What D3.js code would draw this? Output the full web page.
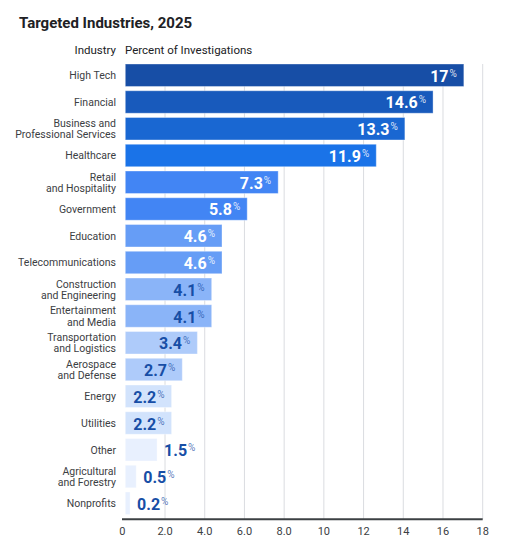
<!DOCTYPE html>
<html>
<head>
<meta charset="utf-8">
<script src="https://cdn.jsdelivr.net/npm/d3@7"></script>
<style>
  html, body { margin: 0; padding: 0; background: #fff; }
  svg { display: block; font-family: Roboto, 'Noto Sans', sans-serif; }
</style>
</head>
<body>
<svg id="chart" width="524" height="556"></svg>
<script>
// Industries, top to bottom. '\n' splits two-line labels.
var industries = [
  'High Tech', 'Financial', 'Business and\nProfessional Services', 'Healthcare',
  'Retail\nand Hospitality', 'Government', 'Education', 'Telecommunications',
  'Construction\nand Engineering', 'Entertainment\nand Media',
  'Transportation\nand Logistics', 'Aerospace\nand Defense', 'Energy',
  'Utilities', 'Other', 'Agricultural\nand Forestry', 'Nonprofits'
];

// Percent of investigations, as printed on each bar.
var percents = [17, 14.6, 13.3, 11.9, 7.3, 5.8, 4.6, 4.6, 4.1, 4.1, 3.4, 2.7, 2.2, 2.2, 1.5, 0.5, 0.2];

// Bar lengths as drawn in the reference, in axis units (the bars run a bit longer than their labels).
var barDrawn = [17.05, 15.5, 14.08, 12.64, 7.7, 6.14, 4.87, 4.87, 4.35, 4.35, 3.63, 2.87, 2.33, 2.33, 1.6, 0.55, 0.24];

var fills = [
  '#174ea6', '#185abc', '#1967d2', '#1a73e8', '#4285f4', '#4285f4',
  '#669df6', '#669df6', '#8ab4f8', '#8ab4f8', '#aecbfa', '#aecbfa',
  '#d2e3fc', '#d2e3fc', '#e8f0fe', '#e8f0fe', '#e8f0fe'
];

var xTicks = [0, 2, 4, 6, 8, 10, 12, 14, 16, 18];
var xTickLabels = ['0', '2.0', '4.0', '6.0', '8.0', '10', '12', '14', '16', '18'];

var data = industries.map(function(name, i) {
  return {name: name, value: percents[i], drawn: barDrawn[i], fill: fills[i], dark: i < 8};
});

var svg = d3.select('#chart');

var x = d3.scaleLinear().domain([0, 18]).range([125.3, 482.7]);
var y = d3.scaleBand()
    .domain(data.map(function(d) { return d.name; }))
    .range([64, 514.5])
    .paddingInner(0.16)
    .paddingOuter(0);

var axisY = 519.3;

// Title and column headers.
svg.append('text')
    .attr('x', 19)
    .attr('y', 28)
    .style('font-size', '15px')
    .style('font-weight', 700)
    .style('fill', '#202124')
    .text('Targeted Industries, 2025');

svg.append('text')
    .attr('x', 116)
    .attr('y', 54)
    .attr('text-anchor', 'end')
    .style('font-size', '11.5px')
    .style('fill', '#202124')
    .text('Industry');

svg.append('text')
    .attr('x', 125)
    .attr('y', 54)
    .style('font-size', '11.5px')
    .style('fill', '#202124')
    .text('Percent of Investigations');

// Gridlines.
svg.append('g')
    .attr('class', 'grid')
  .selectAll('line')
    .data(xTicks.slice(1))
  .enter().append('line')
    .attr('x1', function(d) { return x(d); })
    .attr('x2', function(d) { return x(d); })
    .attr('y1', 64)
    .attr('y2', axisY)
    .style('stroke', '#dadce0')
    .style('stroke-width', 1);

// Bars.
var rows = svg.append('g').attr('class', 'rows')
  .selectAll('g')
    .data(data)
  .enter().append('g')
    .attr('transform', function(d) { return 'translate(0,' + y(d.name) + ')'; });

rows.append('rect')
    .attr('x', x(0))
    .attr('width', function(d) { return x(d.drawn) - x(0); })
    .attr('height', y.bandwidth())
    .style('fill', function(d) { return d.fill; })
    .style('stroke', '#ffffff')
    .style('stroke-opacity', 0.35)
    .style('stroke-width', 1);

// Category labels, one text per line.
rows.each(function(d) {
  var g = d3.select(this);
  var lines = d.name.split('\n');
  var mid = y.bandwidth() / 2;
  lines.forEach(function(line, i) {
    g.append('text')
        .attr('x', 116)
        .attr('y', mid + 4 + (i - (lines.length - 1) / 2) * 11.2)
        .attr('text-anchor', 'end')
        .style('font-size', '10.5px')
        .style('fill', '#3c4043')
        .text(line);
  });
});

// Value labels with a small raised percent sign.
rows.each(function(d) {
  var g = d3.select(this);
  var label = g.append('text')
      .attr('y', y.bandwidth() / 2 + 6.5)
      .style('font-size', '16px')
      .style('font-weight', 700);
  label.append('tspan')
      .text(d.value);
  label.append('tspan')
      .attr('dx', 1)
      .attr('dy', -5)
      .style('font-size', '10px')
      .style('font-weight', 400)
      .text('%');

  var w = label.node().getComputedTextLength();
  var barW = x(d.drawn) - x(0);
  var inside = barW >= w + 14;
  var colour = d.dark ? '#ffffff' : '#174ea6';

  label
      .attr('x', inside ? x(d.drawn) - 8 - w : x(d.drawn) + 7)
      .style('fill', colour);
  label.select('tspan:last-child')
      .style('fill', colour)
      .style('fill-opacity', d.dark ? 0.85 : 0.75);
});

// Axis line and tick labels.
svg.append('line')
    .attr('x1', 122)
    .attr('x2', x(18))
    .attr('y1', axisY)
    .attr('y2', axisY)
    .style('stroke', '#3c4043')
    .style('stroke-width', 2);

svg.append('g')
    .attr('class', 'ticks')
  .selectAll('text')
    .data(xTicks)
  .enter().append('text')
    .attr('x', function(d) { return d === 0 ? 122.3 : x(d); })
    .attr('y', 535)
    .attr('text-anchor', 'middle')
    .style('font-size', '11px')
    .style('fill', '#3c4043')
    .text(function(d, i) { return xTickLabels[i]; });
</script>
</body>
</html>
